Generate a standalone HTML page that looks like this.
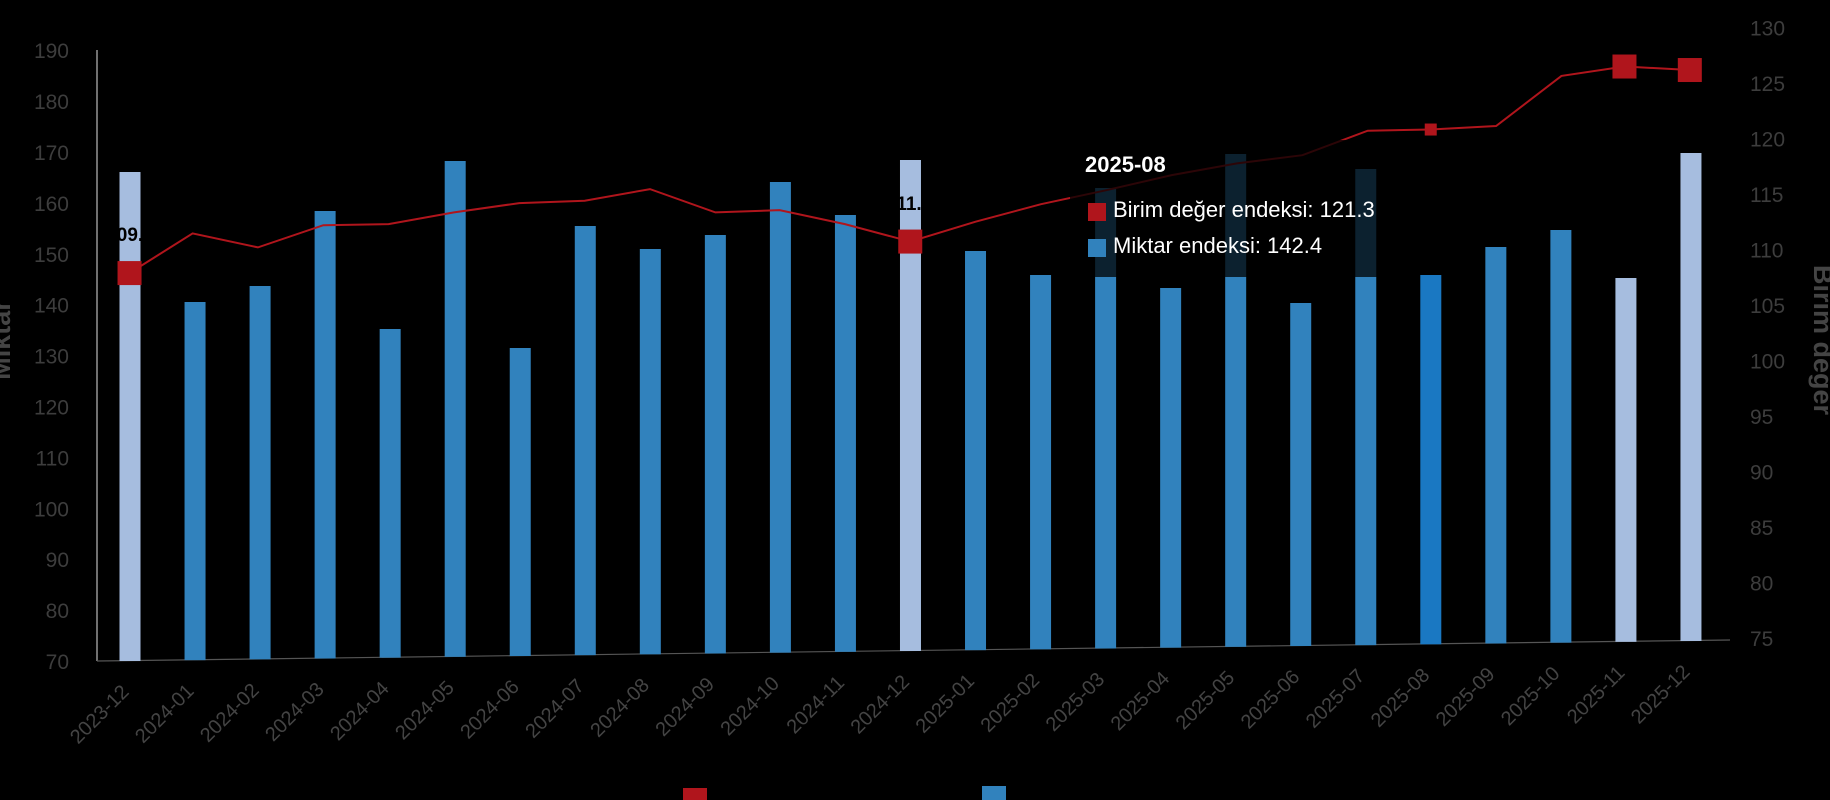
<!DOCTYPE html>
<html><head><meta charset="utf-8"><style>
html,body{margin:0;padding:0;background:#000;width:1830px;height:800px;overflow:hidden}
svg{display:block;font-family:"Liberation Sans",sans-serif}
</style></head><body>
<svg width="1830" height="800" viewBox="0 0 1830 800">
<rect width="1830" height="800" fill="#000"/>
<g id="c"></g>
</svg>
<script>
const S=1.167;
const light=[0,12,23,24];
const tops=[172,302,286,211,329,161,348,226,249,235,182,215,160,251,275,188,288,154,303,169,275,247,230,278,153];
const lp=[[111,234],[165,200],[221,212],[277,193],[333,192],[389,182],[445,174],[501,172],[557,162],[613,182],[668,180],[724,192],[780,207],[836,190],[892,175],[948,163],[1004,150],[1060,140],[1116,133],[1172,112],[1226,111],[1282,108],[1338,65],[1392,57],[1448,60]];
const labels=["2023-12","2024-01","2024-02","2024-03","2024-04","2024-05","2024-06","2024-07","2024-08","2024-09","2024-10","2024-11","2024-12","2025-01","2025-02","2025-03","2025-04","2025-05","2025-06","2025-07","2025-08","2025-09","2025-10","2025-11","2025-12"];
let h='';
for(let i=0;i<=12;i++){const v=70+i*10;const y=661-i*50.9;h+=`<text x="69" y="${y+8}" text-anchor="end" font-size="21" fill="#3d3d3d">${v}</text>`;}
for(let i=0;i<=11;i++){const v=75+i*5;const y=638-i*55.5;h+=`<text x="1750" y="${y+8}" text-anchor="start" font-size="21" fill="#3d3d3d">${v}</text>`;}
h+=`<line x1="97" y1="50" x2="97" y2="661" stroke="#bbb" stroke-width="1.2"/>`;
h+=`<line x1="97" y1="661" x2="1730" y2="640" stroke="#555" stroke-width="1.2"/>`;
for(let i=0;i<25;i++){const cx=130+i*65.04;const base=661-(i/24)*20;
 let col=light.includes(i)?'#a6bddf':(i==20?'#1a78c2':'#3182bd');
 h+=`<rect x="${cx-10.5}" y="${tops[i]}" width="21" height="${base-tops[i]}" fill="${col}"/>`;
 h+=`<text transform="translate(${cx},${base+32}) rotate(-45)" text-anchor="end" font-size="20" fill="#444">${labels[i]}</text>`;}
h+=`<polyline fill="none" stroke="#b0151c" stroke-width="2" points="${lp.map(p=>(p[0]*S).toFixed(1)+','+(p[1]*S).toFixed(1)).join(' ')}"/>`;
[0,12,23,24].forEach(i=>{const x=lp[i][0]*S,y=lp[i][1]*S;h+=`<rect x="${x-12}" y="${y-12}" width="24" height="24" fill="#b0151c"/>`;});
{const x=lp[20][0]*S,y=lp[20][1]*S;h+=`<rect x="${x-6}" y="${y-6}" width="12" height="12" fill="#b0151c"/>`;}
h+=`<text x="130" y="241" text-anchor="middle" font-size="19" font-weight="bold" fill="#000">09.</text>`;
h+=`<text x="909" y="210" text-anchor="middle" font-size="19" font-weight="bold" fill="#000">11.</text>`;
h+=`<rect x="1070" y="140" width="335" height="137" fill="rgba(0,0,0,0.75)"/>`;
h+=`<text x="1085" y="172" font-size="22" font-weight="bold" fill="#fff">2025-08</text>`;
h+=`<rect x="1088" y="203" width="18" height="18" fill="#b0151c"/><text x="1113" y="217" font-size="22" fill="#fff">Birim değer endeksi: 121.3</text>`;
h+=`<rect x="1088" y="239" width="18" height="18" fill="#3182bd"/><text x="1113" y="253" font-size="22" fill="#fff">Miktar endeksi: 142.4</text>`;
h+=`<text transform="translate(10,340) rotate(-90)" text-anchor="middle" font-size="27" font-weight="bold" fill="#444">Miktar</text>`;
h+=`<text transform="translate(1814,340) rotate(90)" text-anchor="middle" font-size="27" font-weight="bold" fill="#444">Birim değer</text>`;
h+=`<rect x="683" y="788" width="24" height="24" fill="#b0151c"/><rect x="982" y="786" width="24" height="24" fill="#3182bd"/>`;
document.getElementById('c').innerHTML=h;
</script>
</body></html>
